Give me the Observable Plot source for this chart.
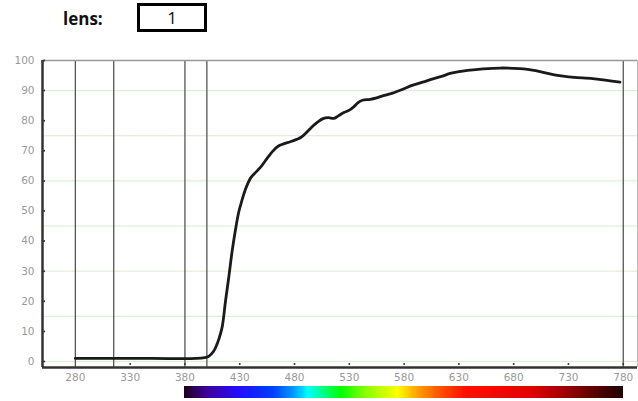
<!DOCTYPE html>
<html>
<head>
<meta charset="utf-8">
<script src="https://cdn.jsdelivr.net/npm/d3@7"></script>
<script src="https://cdn.jsdelivr.net/npm/@observablehq/plot@0.6"></script>
<style>
  html, body { margin: 0; padding: 0; background: #fff; }
  #wrap { width: 638px; height: 401px; position: relative; overflow: hidden; }
  #head { position: relative; height: 50px; }
  #lbl { position: absolute; left: 63px; top: 10px; font: bold 17px "Open Sans", sans-serif; line-height: 17px; color: #111; }
  #box { position: absolute; left: 137px; top: 3px; width: 64px; height: 23px; border: 3px solid #000;
         font: 17px "Open Sans", sans-serif; text-align: center; line-height: 23px; color: #111; }
  svg { display: block; }
</style>
</head>
<body>
<div id="wrap">
  <div id="head"><div id="lbl">lens:</div><div id="box">1</div></div>
  <div id="main"></div>
  <div id="bar"></div>
</div>
<script>
// wavelength (nm) and transmission (%)
const wavelengths = [280, 300, 350, 390, 398, 402, 406, 409, 411, 414, 417, 420, 423, 426, 429, 432, 435, 440, 445, 450, 455, 460, 465, 470, 476, 482, 486, 492, 497, 501, 506, 511, 516, 520, 525, 530, 534, 538, 542, 549, 555, 561, 568, 577, 588, 597, 607, 615, 622, 630, 638, 652, 668, 680, 689, 697, 704, 716, 725, 735, 752, 765, 777];
const transmission = [1, 1, 1, 1, 1.3, 1.8, 3.3, 5.5, 7.5, 11.5, 20, 28, 36.5, 43.5, 49.5, 53.5, 57, 61, 63, 65, 67.5, 69.8, 71.5, 72.3, 73, 73.8, 74.5, 76.5, 78.3, 79.5, 80.7, 81, 80.8, 81.6, 82.7, 83.5, 84.6, 86, 86.8, 87.1, 87.6, 88.3, 89, 90.2, 91.8, 92.8, 94, 94.8, 95.7, 96.3, 96.7, 97.2, 97.5, 97.4, 97.2, 96.8, 96.3, 95.3, 94.8, 94.4, 94, 93.4, 92.8];
const xTicks = [280, 330, 380, 430, 480, 530, 580, 630, 680, 730, 780];
const yTicks = [0, 10, 20, 30, 40, 50, 60, 70, 80, 90, 100];
const gridLines = [0, 15, 30, 45, 60, 75, 90];
const markerLines = [280, 315, 380, 400, 780];
const spectrumStops = [380, 401, 431, 461, 480, 492, 507, 522, 543, 574, 592, 613, 635, 696, 726, 757, 780];
const spectrumColors = ["#200020", "#4000a0", "#2010ff", "#0040ff", "#00a0ff", "#00ffff", "#00ff80", "#00ff00", "#80ff00", "#ffff00", "#ffa000", "#ff5000", "#ff1000", "#e00000", "#a00000", "#500000", "#200000"];

const data = wavelengths.map((w, i) => ({w, t: transmission[i]}));
const xDomain = [250, 793];

const main = Plot.plot({
  width: 638, height: 335,
  marginLeft: 42, marginRight: 1, marginTop: 10, marginBottom: 18,
  style: {fontFamily: "DejaVu Sans, sans-serif", fontSize: "10.5px", color: "#999", background: "#fff"},
  x: {domain: xDomain, ticks: xTicks, label: null},
  y: {domain: [-2, 100], ticks: yTicks, label: null},
  marks: [
    Plot.ruleY(gridLines, {stroke: "#d6eecd", strokeWidth: 1}),
    Plot.ruleX(markerLines, {y1: -2, y2: 100, stroke: "#555", strokeWidth: 1.3}),
    Plot.ruleY([100], {stroke: "#999", strokeWidth: 1.5}),
    Plot.ruleX([793], {stroke: "#bbb", strokeWidth: 1}),
    Plot.line(data, {x: "w", y: "t", stroke: "#1a1a1a", strokeWidth: 2.8, curve: "catmull-rom"}),
    Plot.ruleY([-2], {stroke: "#333", strokeWidth: 2.5}),
    Plot.ruleX([250], {y1: -2, y2: 100, stroke: "#333", strokeWidth: 2.5}),
    Plot.dot(yTicks, {x: 251.5, y: d => d, r: 1, fill: "#333"}),
    Plot.dot(xTicks.slice(1), {x: d => d, y: -0.8, r: 1, fill: "#333"}),
    Plot.axisX({ticks: xTicks, tickSize: 0, tickPadding: 6, fill: "#999", label: null, tickFormat: d => String(d)}),
    Plot.axisY({ticks: yTicks, tickSize: 0, tickPadding: 8, fill: "#999", label: null, tickFormat: d => String(d)})
  ]
});
document.getElementById("main").appendChild(main);

const spec = d3.scaleLinear().domain(spectrumStops).range(spectrumColors);
const nm = d3.range(380, 780, 1);
const bar = Plot.plot({
  width: 638, height: 16,
  marginLeft: 42, marginRight: 1, marginTop: 1, marginBottom: 3,
  x: {domain: xDomain, axis: null},
  y: {axis: null},
  marks: [
    Plot.rect(nm, {x1: d => d, x2: d => d + 1, fill: d => spec(d), inset: 0, shapeRendering: "crispEdges"})
  ]
});
document.getElementById("bar").appendChild(bar);
</script>
</body>
</html>
